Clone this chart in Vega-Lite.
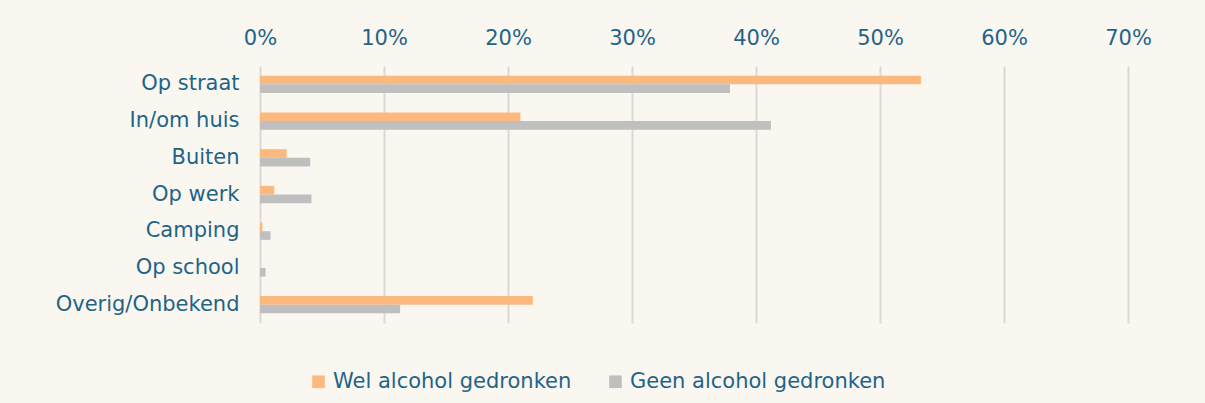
{
  "$schema": "https://vega.github.io/schema/vega-lite/v6.json",
  "autosize": {"type": "none"},
  "padding": {"left": 260, "top": 66, "right": 77, "bottom": 80},
  "width": 868,
  "height": 257,
  "background": "#FAF7F1",
  "config": {
    "view": {"stroke": null},
    "font": "DejaVu Sans",
    "axis": {"labelFont": "DejaVu Sans", "labelColor": "#1F6487", "labelFontSize": 21}
  },
  "data": {
    "values": [
      {"plaats": "Op straat", "groep": "Wel alcohol gedronken", "waarde": 0.533},
      {"plaats": "Op straat", "groep": "Geen alcohol gedronken", "waarde": 0.379},
      {"plaats": "In/om huis", "groep": "Wel alcohol gedronken", "waarde": 0.210},
      {"plaats": "In/om huis", "groep": "Geen alcohol gedronken", "waarde": 0.412},
      {"plaats": "Buiten", "groep": "Wel alcohol gedronken", "waarde": 0.0215},
      {"plaats": "Buiten", "groep": "Geen alcohol gedronken", "waarde": 0.0405},
      {"plaats": "Op werk", "groep": "Wel alcohol gedronken", "waarde": 0.0115},
      {"plaats": "Op werk", "groep": "Geen alcohol gedronken", "waarde": 0.0415},
      {"plaats": "Camping", "groep": "Wel alcohol gedronken", "waarde": 0.002},
      {"plaats": "Camping", "groep": "Geen alcohol gedronken", "waarde": 0.0085},
      {"plaats": "Op school", "groep": "Wel alcohol gedronken", "waarde": 0.0},
      {"plaats": "Op school", "groep": "Geen alcohol gedronken", "waarde": 0.0045},
      {"plaats": "Overig/Onbekend", "groep": "Wel alcohol gedronken", "waarde": 0.220},
      {"plaats": "Overig/Onbekend", "groep": "Geen alcohol gedronken", "waarde": 0.113}
    ]
  },
  "mark": {"type": "bar"},
  "encoding": {
    "y": {
      "field": "plaats",
      "type": "nominal",
      "sort": ["Op straat", "In/om huis", "Buiten", "Op werk", "Camping", "Op school", "Overig/Onbekend"],
      "scale": {"paddingInner": 0.53, "paddingOuter": 0.265},
      "axis": {"title": null, "domain": false, "ticks": false, "labelPadding": 21, "labelAlign": "right", "labelLimit": 260}
    },
    "yOffset": {
      "field": "groep",
      "type": "nominal",
      "sort": ["Wel alcohol gedronken", "Geen alcohol gedronken"],
      "scale": {"paddingInner": 0, "paddingOuter": 0}
    },
    "x": {
      "field": "waarde",
      "type": "quantitative",
      "scale": {"domain": [0, 0.7], "nice": false},
      "axis": {
        "orient": "top",
        "title": null,
        "format": ".0%",
        "values": [0, 0.1, 0.2, 0.3, 0.4, 0.5, 0.6, 0.7],
        "domain": false,
        "ticks": false,
        "labelFlush": false,
        "labelPadding": 18,
        "grid": true,
        "gridColor": "#D9D9D9",
        "gridWidth": 2
      }
    },
    "color": {
      "field": "groep",
      "type": "nominal",
      "sort": ["Wel alcohol gedronken", "Geen alcohol gedronken"],
      "scale": {"domain": ["Wel alcohol gedronken", "Geen alcohol gedronken"], "range": ["#FCB97D", "#BFBFBF"]},
      "legend": {
        "title": null,
        "orient": "none",
        "direction": "horizontal",
        "legendX": 48,
        "legendY": 305,
        "padding": 0,
        "symbolType": "square",
        "symbolSize": 160,
        "symbolStrokeWidth": 0,
        "symbolOpacity": 1,
        "labelFont": "DejaVu Sans",
        "labelFontSize": 21,
        "labelColor": "#1F6487",
        "labelOffset": 4,
        "labelLimit": 400,
        "columnPadding": 33
      }
    }
  }
}
